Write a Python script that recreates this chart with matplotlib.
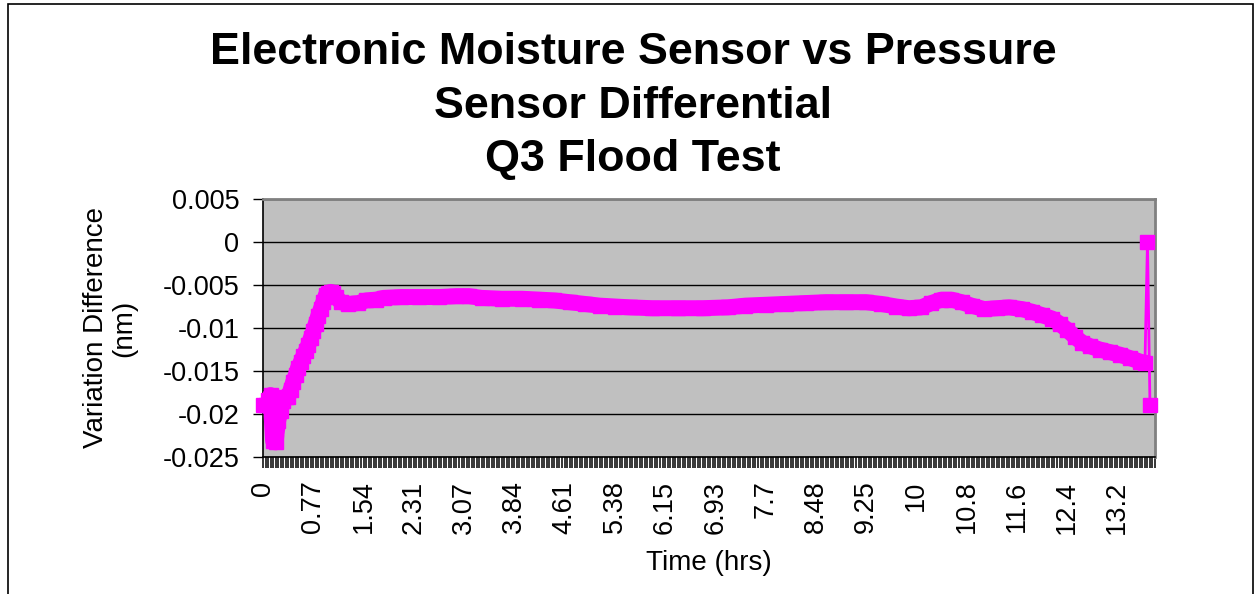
import numpy as np
import matplotlib.pyplot as plt
from matplotlib.patches import Rectangle
from matplotlib.ticker import MultipleLocator, FixedLocator

plt.rcParams['font.family'] = ['Liberation Sans', 'DejaVu Sans']
plt.rcParams['axes.unicode_minus'] = False

# reading number (one category per reading on the x axis)
sample = [0, 1, 2, 3, 4, 5, 6, 7, 8, 9,
          10, 11, 12, 13, 14, 15, 16, 17, 18, 19,
          20, 21, 22, 23, 24, 25, 26, 27, 28, 29,
          31, 34, 38, 41, 45, 48, 55, 62, 70, 77,
          82, 87, 95, 103, 110, 116, 122, 128, 134, 140,
          146, 155, 165, 175, 185, 192, 200, 208, 216, 224,
          232, 240, 246, 252, 257, 262, 266, 270, 274, 278,
          282, 287, 292, 297, 302, 306, 310, 314, 317, 320,
          323, 326, 329, 333, 337, 341, 345, 349, 351, 352, 353]
# variation difference (nm)
diff = [-0.0190, -0.0190, -0.0184, -0.0178, -0.0231, -0.0233, -0.0208, -0.0196, -0.0185, -0.0180,
        -0.0180, -0.0172, -0.0163, -0.0155, -0.0146, -0.0140, -0.0133, -0.0127, -0.0120, -0.0112,
        -0.0104, -0.0095, -0.0086, -0.0078, -0.0070, -0.0062, -0.0059, -0.0058, -0.0059, -0.0064,
        -0.0070, -0.0072, -0.0071, -0.0068, -0.0067, -0.0065, -0.0064, -0.0064, -0.0064, -0.0063,
        -0.0063, -0.0065, -0.0066, -0.0066, -0.0067, -0.0068, -0.0070, -0.0072, -0.0074, -0.0075,
        -0.0076, -0.0077, -0.0077, -0.0077, -0.0076, -0.0074, -0.0073, -0.0072, -0.0071, -0.0070,
        -0.0070, -0.0070, -0.0072, -0.0075, -0.0077, -0.0076, -0.0071, -0.0067, -0.0067, -0.0070,
        -0.0074, -0.0078, -0.0077, -0.0076, -0.0078, -0.0081, -0.0085, -0.0089, -0.0095, -0.0102,
        -0.0110, -0.0117, -0.0121, -0.0125, -0.0128, -0.0131, -0.0135, -0.0139, -0.0141, 0.0000, -0.0190]

time_labels = ['0', '0.77', '1.54', '2.31', '3.07', '3.84', '4.61', '5.38', '6.15',
               '6.93', '7.7', '8.48', '9.25', '10', '10.8', '11.6', '12.4', '13.2']
label_every = 20
n_categories = 355

y_ticks = [0.005, 0, -0.005, -0.01, -0.015, -0.02, -0.025]
y_tick_labels = ['0.005', '0', '-0.005', '-0.01', '-0.015', '-0.02', '-0.025']

magenta = '#FF00FF'

fig = plt.figure(figsize=(12.59, 5.94), dpi=100)
ax = fig.add_axes([263 / 1259, 1 - 457 / 594, 892 / 1259, 258 / 594])

# outer chart frame
fig.patches.append(Rectangle((8 / 1259, -0.05), 1245 / 1259, 1.05 - 4 / 594,
                             transform=fig.transFigure, fill=False,
                             edgecolor='black', linewidth=1.2))

ax.set_facecolor('#C0C0C0')

# dense readings overlap into a thick band in the original
n_main = len(sample) - 2
ax.plot(sample[:n_main], diff[:n_main], color=magenta, linewidth=11.5,
        solid_joinstyle='round', solid_capstyle='butt', zorder=3)
ax.plot(sample, diff, color=magenta, linewidth=2, marker='s', markersize=10.5,
        markeredgecolor=magenta, clip_on=False, zorder=4)

ax.set_xlim(0, n_categories)
ax.set_ylim(-0.025, 0.005)

ax.yaxis.set_major_locator(FixedLocator(y_ticks))
ax.set_yticklabels(y_tick_labels)
ax.grid(axis='y', color='black', linewidth=1.0)
ax.set_axisbelow(True)

ax.xaxis.set_major_locator(FixedLocator([i * label_every for i in range(len(time_labels))]))
ax.set_xticklabels(time_labels, rotation=90)
ax.xaxis.set_minor_locator(MultipleLocator(1))

ax.tick_params(axis='y', direction='out', length=7, width=1, labelsize=19.5, pad=10)
ax.tick_params(axis='x', which='both', direction='out', length=8, width=1.1,
               labelsize=19.5, pad=9)

for side in ['top', 'right']:
    ax.spines[side].set_color('#808080')
    ax.spines[side].set_linewidth(2)
for side in ['left', 'bottom']:
    ax.spines[side].set_color('black')
    ax.spines[side].set_linewidth(1.2)

title_lines = ['Electronic Moisture Sensor vs Pressure', 'Sensor Differential', 'Q3 Flood Test']
title_y = [53, 107, 160]
for line, y in zip(title_lines, title_y):
    fig.text(633 / 1259, 1 - y / 594, line, ha='center', va='center',
             fontsize=32.3, fontweight='bold')

fig.text(110 / 1259, 1 - 328 / 594, 'Variation Difference\n(nm)', rotation=90,
         ha='center', va='center', multialignment='center', fontsize=20, linespacing=1.1)
fig.text(709 / 1259, 1 - 563 / 594, 'Time (hrs)', ha='center', va='center', fontsize=20)

fig.savefig('out.png', dpi=100)
